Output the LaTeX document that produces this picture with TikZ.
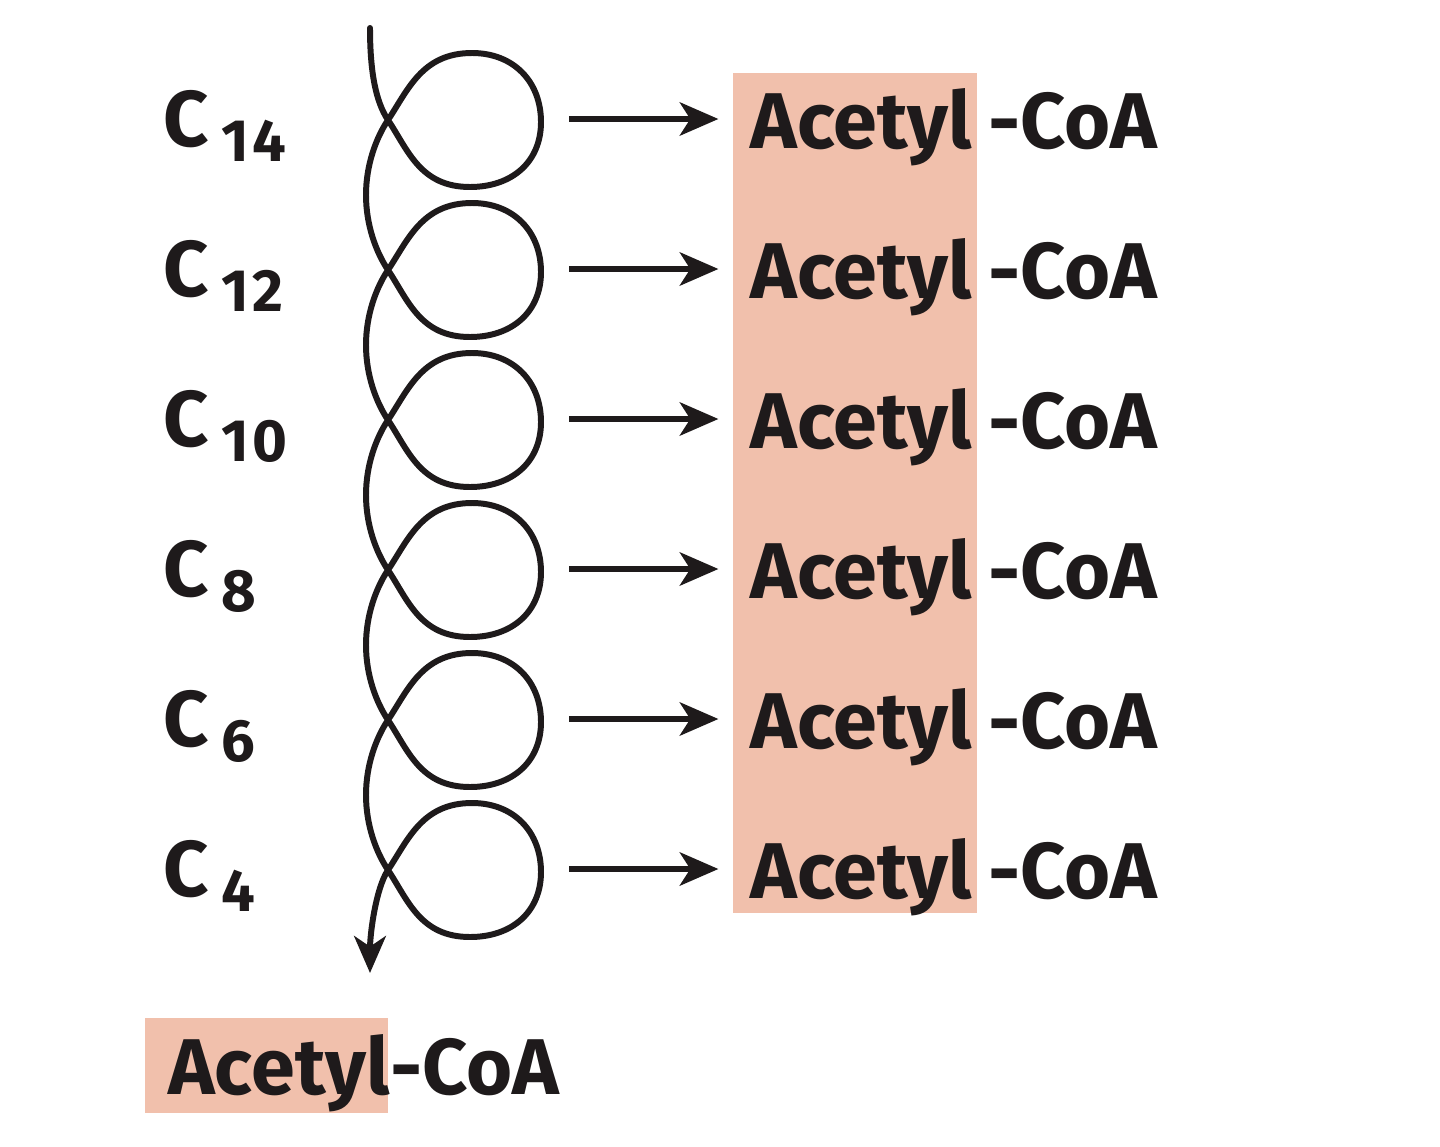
\documentclass[tikz,border=0pt]{standalone}
\usepackage{fontspec}
\setmainfont[Numbers=Lining]{Fira Sans}
\usepackage{xcolor}
\usepackage{tikz}
\usetikzlibrary{calc}
\usetikzlibrary{arrows.meta}

\definecolor{acpink}{RGB}{241,192,172}
\definecolor{ink}{RGB}{30,26,27}
\newcommand{\kettenidx}[1]{\raisebox{-9pt}{\fontsize{34}{38}\selectfont\addfontfeature{LetterSpace=6}#1}}

\tikzset{
  spirale/.style={draw=ink,line width=3.4pt,line cap=round},
  pfeil/.style={draw=ink,line width=3pt,-{Stealth[length=22pt,width=19pt,inset=6pt]}},
  gross/.style={inner sep=0pt,anchor=base west,text=ink,font=\bfseries\fontsize{45}{50}\selectfont}
}

\begin{document}
\begin{tikzpicture}[x=0.02cm,y=-0.02cm]
\useasboundingbox (0,0) rectangle (1440,1146);

\fill[acpink] (733,73) rectangle (977,913);										% Acetyl Kasten rechts
\fill[acpink] (145,1018) rectangle (388,1113);									% Acetyl Kasten unten

\draw[spirale,-{Stealth[length=21pt,width=18pt,inset=6pt]}] (370,28) .. controls +(0,45) and +(-12,-18) .. (388,120)
  \foreach \i [evaluate=\i as \yc using 120+150*\i] in {0,...,4} {
    .. controls +(20,30) and +(-50,0) .. (470,\yc+67)
    .. controls +(42,0) and +(0,40) .. (541,\yc+2)
    .. controls +(0,-40) and +(42,0) .. (472,\yc-67)
    .. controls +(-50,0) and +(20,-30) .. (388,\yc)
    .. controls +(-12,18) and +(0,-30) .. (366,\yc+75)
    .. controls +(0,30) and +(-12,-18) .. (388,\yc+150)
  }
    .. controls +(20,30) and +(-50,0) .. (470,937)
    .. controls +(42,0) and +(0,40) .. (541,872)
    .. controls +(0,-40) and +(42,0) .. (472,803)
    .. controls +(-50,0) and +(20,-30) .. (388,870)
    .. controls +(-12,18) and +(0,-40) .. (370,973);						% Spirale mit Pfeil nach unten

\foreach \n/\i in {14/0,12/1,10/2,8/3,6/4,4/5} {
  \node[gross] (c\n) at (163,146+150*\i) {C\hspace{7pt}\kettenidx{\n}};			% Kettenlaenge
  \node[gross] (ac\n) at (750,148+150*\i) {Acetyl};								% Acetyl
  \node[gross] (coa\n) at (988,148+150*\i) {-CoA};								% CoA
  \coordinate (s\n) at (569,119+150*\i);
  \draw[pfeil,shorten >=18pt] (s\n) -- (s\n -| ac\n.west);						% Pfeil zum Acetyl
}

\node[gross] (acu) at (168,1094) {Acetyl};											% Acetyl unten
\node[gross,anchor=base west] (coau) at (acu.base east) {-CoA};					% CoA unten

\end{tikzpicture}
\end{document}
